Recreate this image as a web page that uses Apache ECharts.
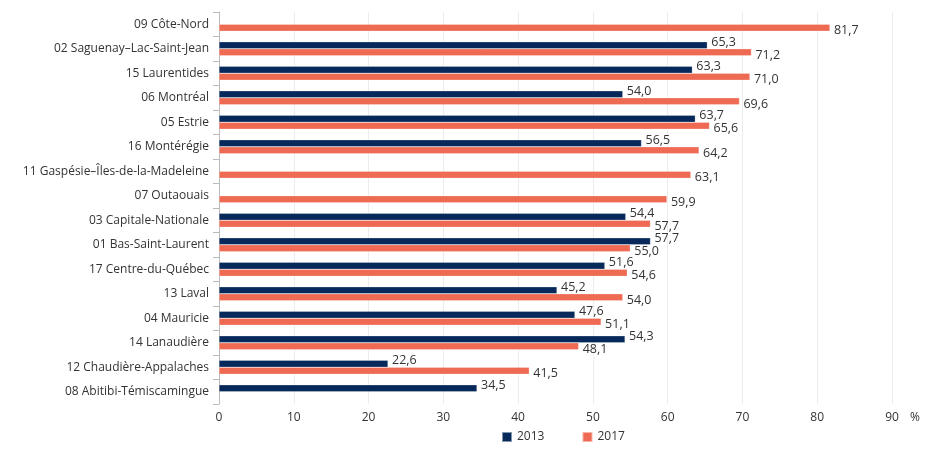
<!DOCTYPE html>
<html>
<head>
<meta charset="utf-8">
<script src="https://cdn.jsdelivr.net/npm/echarts@6/dist/echarts.min.js"></script>
<style>
  html, body { margin: 0; padding: 0; background: #fff; }
  #chart { width: 935px; height: 450px; }
</style>
</head>
<body>
<div id="chart"></div>
<script>
// regions, top to bottom
var regions = [
  '09 Côte-Nord',
  '02 Saguenay–Lac-Saint-Jean',
  '15 Laurentides',
  '06 Montréal',
  '05 Estrie',
  '16 Montérégie',
  '11 Gaspésie–Îles-de-la-Madeleine',
  '07 Outaouais',
  '03 Capitale-Nationale',
  '01 Bas-Saint-Laurent',
  '17 Centre-du-Québec',
  '13 Laval',
  '04 Mauricie',
  '14 Lanaudière',
  '12 Chaudière-Appalaches',
  '08 Abitibi-Témiscamingue'
]
var values2013 = [null, 65.3, 63.3, 54.0, 63.7, 56.5, null, null, 54.4, 57.7, 51.6, 45.2, 47.6, 54.3, 22.6, 34.5]
var values2017 = [81.7, 71.2, 71.0, 69.6, 65.6, 64.2, 63.1, 59.9, 57.7, 55.0, 54.6, 54.0, 51.1, 48.1, 41.5, null]
var xTicks = [0, 10, 20, 30, 40, 50, 60, 70, 80, 90]

var font = '"Open Sans", sans-serif'

function fmt(p) {
  return p.value == null ? '' : p.value.toFixed(1).replace('.', ',')
}

var chart = echarts.init(document.getElementById('chart'))
chart.setOption({
  animation: false,
  textStyle: { fontFamily: font },
  grid: { left: 219, right: 43, top: 12, bottom: 46 },
  legend: {
    bottom: 2,
    left: 496,
    itemWidth: 10,
    itemHeight: 10,
    itemGap: 37,
    icon: 'rect',
    textStyle: { fontFamily: font, fontSize: 12, color: '#333' },
    data: ['2013', '2017']
  },
  xAxis: {
    type: 'value',
    min: xTicks[0],
    max: xTicks[xTicks.length - 1],
    interval: 10,
    name: '%',
    nameLocation: 'end',
    nameGap: 18,
    nameTextStyle: { fontFamily: font, fontSize: 12, color: '#333', verticalAlign: 'top', padding: [8, 0, 0, 0] },
    axisLine: { show: false },
    axisTick: { show: false },
    axisLabel: { fontFamily: font, fontSize: 12, color: '#333', margin: 8 },
    splitLine: { show: true, lineStyle: { color: '#ececec', width: 1 } }
  },
  yAxis: {
    type: 'category',
    inverse: true,
    data: regions,
    axisLine: { show: true, lineStyle: { color: '#bbb' } },
    axisTick: { show: true, length: 6, lineStyle: { color: '#bbb' } },
    axisLabel: { fontFamily: font, fontSize: 12, color: '#333', margin: 10 }
  },
  series: [
    {
      name: '2013',
      type: 'bar',
      data: values2013,
      barWidth: 7,
      barGap: '0%',
      itemStyle: { color: '#06285a', borderColor: 'rgba(255,255,255,0.5)', borderWidth: 0.5 },
      label: {
        show: true,
        position: 'right',
        distance: 4,
        offset: [0, -3],
        formatter: fmt,
        fontFamily: font,
        fontSize: 12.5,
        color: '#333'
      }
    },
    {
      name: '2017',
      type: 'bar',
      data: values2017,
      barWidth: 7,
      barGap: '0%',
      itemStyle: { color: '#ee6a52', borderColor: 'rgba(255,255,255,0.5)', borderWidth: 0.5 },
      label: {
        show: true,
        position: 'right',
        distance: 4,
        offset: [0, 3],
        formatter: fmt,
        fontFamily: font,
        fontSize: 12.5,
        color: '#333'
      }
    }
  ]
})
</script>
</body>
</html>
